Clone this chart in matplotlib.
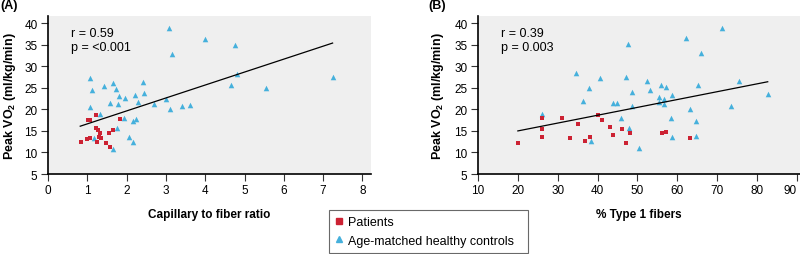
import numpy as np
import matplotlib
matplotlib.use("Agg")
import matplotlib.pyplot as plt
from matplotlib.lines import Line2D

plt.rcParams['font.family'] = ['Liberation Sans', 'DejaVu Sans']
plt.rcParams['mathtext.fontset'] = 'custom'
plt.rcParams['mathtext.rm'] = 'Liberation Sans'
plt.rcParams['mathtext.bf'] = 'Liberation Sans:bold'

# panel A: capillary to fiber ratio
cap_pat = [0.84, 0.99, 1.08, 1.01, 1.08, 1.22, 1.23, 1.28, 1.32, 1.30, 1.34,
           1.24, 1.48, 1.59, 1.55, 1.66, 1.83]
vo2_pat_a = [12.35, 13.2, 13.3, 17.5, 17.6, 18.8, 15.7, 15.3, 14.5, 13.5, 13.3,
             12.4, 12.1, 11.2, 14.6, 15.3, 17.7]
cap_ctl = [3.08, 4.00, 4.75, 3.15, 1.08, 7.25, 1.65, 2.42, 1.42, 4.65, 5.55, 1.12,
           1.72, 2.43, 1.80, 2.22, 1.95, 3.00, 4.82, 2.28, 1.58, 1.77, 2.70, 3.10,
           3.42, 3.62, 1.08, 1.33, 1.93, 2.23, 2.15, 1.75, 2.07, 1.18, 2.17, 1.65]
vo2_ctl_a = [38.8, 36.3, 35.0, 32.8, 27.3, 27.4, 26.2, 26.3, 25.4, 25.6, 25.0, 24.4,
             24.7, 23.9, 23.2, 23.3, 22.6, 22.3, 28.2, 21.8, 21.5, 21.3, 21.3, 20.0,
             20.7, 21.0, 20.6, 18.9, 18.0, 17.8, 17.3, 15.6, 13.7, 13.3, 12.4, 10.9]
fit_a = (3.006, 13.63)      # slope, intercept
fit_a_range = (0.82, 7.24)

# panel B: % type 1 fibers
t1_pat = [20.0, 26.0, 26.0, 26.0, 31.0, 35.0, 33.1, 36.9, 38.1, 40.2, 41.1,
          43.0, 44.0, 46.2, 47.1, 48.1, 56.1, 57.1, 63.2]
vo2_pat_b = [12.2, 17.9, 15.5, 13.7, 17.9, 16.7, 13.4, 12.6, 13.5, 18.8, 17.6,
             15.8, 14.0, 15.4, 12.3, 14.5, 14.5, 14.7, 13.4]
t1_ctl = [71.3, 62.2, 47.7, 66.0, 34.5, 40.5, 47.2, 75.6, 52.4, 55.9, 57.2, 65.1,
          37.9, 53.2, 48.7, 82.7, 58.6, 55.4, 56.7, 55.4, 56.7, 43.9, 44.9, 36.4,
          48.6, 63.2, 73.5, 26.0, 45.9, 58.5, 64.6, 47.9, 64.7, 58.7, 38.4, 50.3]
vo2_ctl_b = [38.9, 36.6, 35.2, 33.1, 28.4, 27.3, 27.6, 26.6, 26.6, 25.7, 25.2, 25.7,
             24.9, 24.6, 24.1, 23.5, 23.3, 22.8, 22.5, 21.7, 21.2, 21.5, 21.5, 21.9,
             20.7, 20.1, 20.8, 19.0, 18.1, 18.1, 17.3, 15.7, 13.9, 13.6, 12.6, 11.1]
fit_b = (0.182, 11.36)
fit_b_range = (20.0, 82.7)

stats_a = "r = 0.59\np = <0.001"
stats_b = "r = 0.39\np = 0.003"
yticks = [5, 10, 15, 20, 25, 30, 35, 40]

red = '#cc2233'
blue = '#45b0dc'
bg = '#efefef'

fig = plt.figure(figsize=(8, 2.55), dpi=100)
ax_a = fig.add_axes([0.06, 0.3137, 0.4034, 0.6184])
ax_b = fig.add_axes([0.5975, 0.3137, 0.4025, 0.6184])


def draw(ax, xp, yp, xc, yc, fit, rng, stats, xlim, xticks, xlabel, tag, ylab_x):
    ax.set_facecolor(bg)
    ax.scatter(xc, yc, marker='^', s=16, color=blue, linewidths=0, zorder=3)
    ax.scatter(xp, yp, marker='s', s=11, color=red, linewidths=0, zorder=3)
    xs = np.array(rng)
    ax.plot(xs, fit[0] * xs + fit[1], color='black', lw=0.9, zorder=4)
    ax.set_xlim(*xlim)
    ax.set_ylim(5, 41.6)
    ax.set_xticks(xticks)
    ax.set_yticks(yticks)
    for s in ['top', 'right']:
        ax.spines[s].set_visible(False)
    for s in ['left', 'bottom']:
        ax.spines[s].set_linewidth(1.2)
    ax.tick_params(length=5, width=0.8, labelsize=8.5, pad=2.5, color='#333333')
    ax.set_xlabel(xlabel, fontsize=8.5, fontweight='bold', labelpad=8)
    ax.set_ylabel(r'Peak VO$_\mathbf{2}$ (ml/kg/min)', fontsize=9, fontweight='bold')
    ax.yaxis.set_label_coords(ylab_x, 0.5)
    ax.text(0.07, 0.93, stats, transform=ax.transAxes, fontsize=9,
            va='top', ha='left', linespacing=1.2)
    ax.text(tag[0], 1.0, tag[1], transform=fig.transFigure, fontsize=9,
            fontweight='bold', va='top', ha='left')


draw(ax_a, cap_pat, vo2_pat_a, cap_ctl, vo2_ctl_a, fit_a, fit_a_range, stats_a,
     (0, 8.21), [0, 1, 2, 3, 4, 5, 6, 7, 8], 'Capillary to fiber ratio',
     (0.0, '(A)'), -0.093)
draw(ax_b, t1_pat, vo2_pat_b, t1_ctl, vo2_ctl_b, fit_b, fit_b_range, stats_b,
     (10, 90.8), [10, 20, 30, 40, 50, 60, 70, 80, 90], '% Type 1 fibers',
     (0.535, '(B)'), -0.1)

# keep the last tick label of panel B inside the figure
ax_b.get_xticklabels()[-1].set_horizontalalignment('right')

handles = [
    Line2D([], [], marker='s', ls='', color=red, markersize=4.5),
    Line2D([], [], marker='^', ls='', color=blue, markersize=5),
]
leg = fig.legend(handles, ['Patients', 'Age-matched healthy controls'],
                 loc='lower left', bbox_to_anchor=(0.411, 0.004, 0.249, 0.17),
                 mode='expand', fontsize=9, frameon=True, fancybox=False,
                 handlelength=0.6, handletextpad=0.4, borderaxespad=0,
                 labelspacing=0.5, borderpad=0.5)
leg.get_frame().set_edgecolor('#444444')
leg.get_frame().set_linewidth(0.8)

fig.savefig('out.png', dpi=100)
